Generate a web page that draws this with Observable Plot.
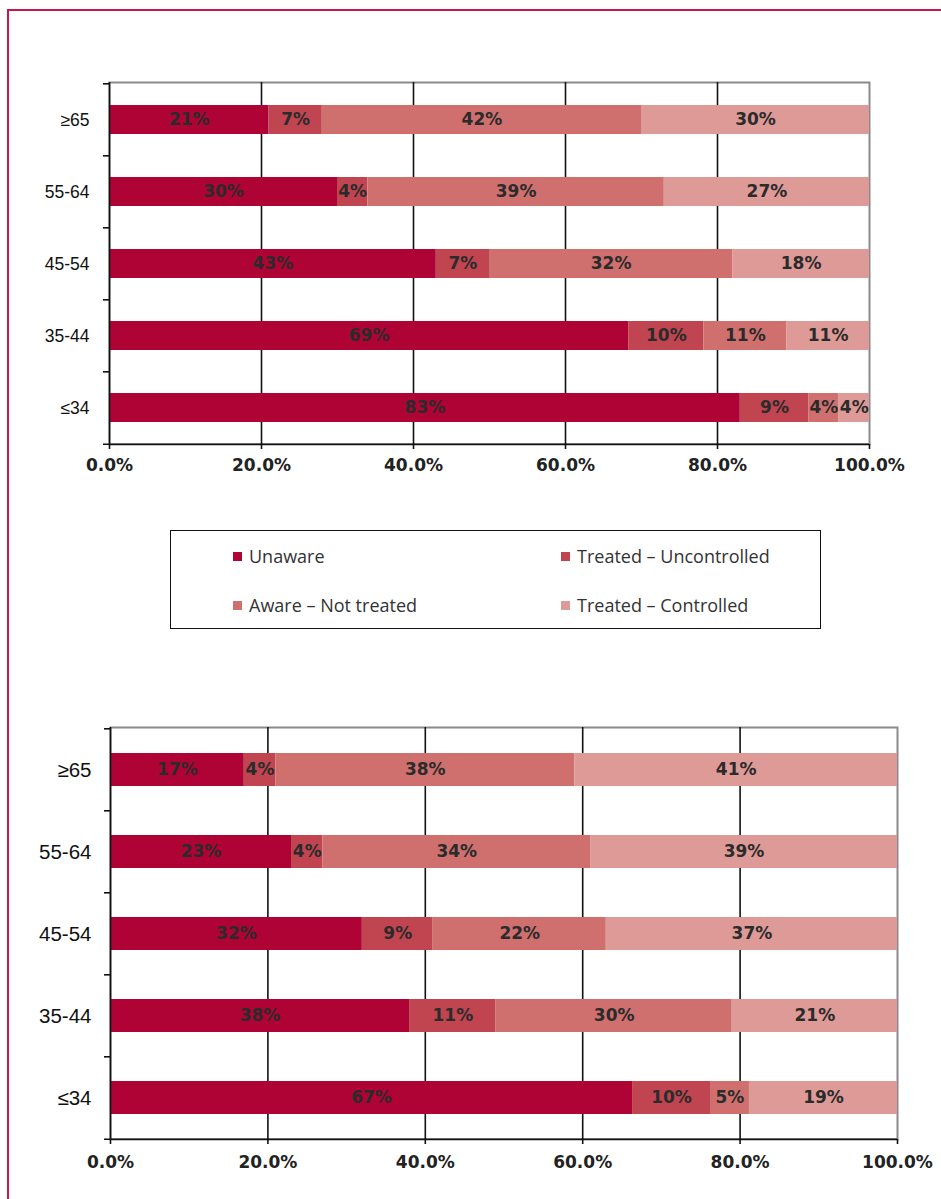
<!DOCTYPE html>
<html><head><meta charset="utf-8">
<script src="https://cdn.jsdelivr.net/npm/d3@7"></script>
<script src="https://cdn.jsdelivr.net/npm/@observablehq/plot@0.6"></script>
<style>
body{margin:0;background:#fff;width:941px;height:1199px;overflow:hidden;position:relative;}
#frame{position:absolute;left:7px;top:9px;width:1000px;height:1300px;border:2px solid #c8174a;box-sizing:border-box;}
#c1{position:absolute;left:0;top:0;}
#c2{position:absolute;left:0;top:680px;}
#legend{position:absolute;left:170px;top:530px;width:651px;height:99px;border:1.5px solid #111;box-sizing:border-box;font-family:"Open Sans";font-size:18px;color:#333;}
.item{position:absolute;display:flex;align-items:center;height:20px;line-height:20px;white-space:nowrap;}
.sw{width:9px;height:9px;margin-right:7px;}
</style></head>
<body>
<div id="frame"></div>
<div id="c1"></div><div id="legend"></div><div id="c2"></div>
<script>
const ageGroups = ["≥65","55-64","45-54","35-44","≤34"];
const statuses = ["Unaware","Treated – Uncontrolled","Aware – Not treated","Treated – Controlled"];
const colors = ["#b00335","#c04550","#cf706f","#de9a97"];
const xTicks = [0,0.2,0.4,0.6,0.8,1];
const xTickLabels = ["0.0%","20.0%","40.0%","60.0%","80.0%","100.0%"];
const gridTicks = [0.2,0.4,0.6,0.8];

// Top chart (values in ageGroups order)
const topUnaware = [21,30,43,69,83];
const topTreatedUncontrolled = [7,4,7,10,9];
const topAwareNotTreated = [42,39,32,11,4];
const topTreatedControlled = [30,27,18,11,4];

// Bottom chart
const bottomUnaware = [17,23,32,38,67];
const bottomTreatedUncontrolled = [4,4,9,11,10];
const bottomAwareNotTreated = [38,34,22,30,5];
const bottomTreatedControlled = [41,39,37,21,19];

function rows(series) {
  const out = [];
  series.forEach((vals, s) => vals.forEach((v, i) => out.push({age: ageGroups[i], status: statuses[s], value: v})));
  return out;
}

function chart({data, height, mt, mb, ml, mr, labelDx, labelSize, tickPad}) {
  const width = 941;
  const plotW = width - ml - mr;
  const step = (height - mt - mb) / ageGroups.length;
  const tk = 6 / plotW;
  const numFont = "DejaVu Sans";
  return Plot.plot({
    width, height,
    marginTop: mt, marginBottom: mb, marginLeft: ml, marginRight: mr,
    style: {background: "transparent", overflow: "visible"},
    x: {domain: [0, 1], axis: null},
    y: {domain: ageGroups, axis: null, paddingInner: 0.6, paddingOuter: 0.3},
    color: {domain: statuses, range: colors},
    marks: [
      Plot.frame({stroke: "#8a8a8e", strokeWidth: 2}),
      Plot.ruleX(gridTicks, {stroke: "#111", strokeWidth: 1.6}),
      Plot.barX(data, Plot.stackX({x: "value", y: "age", fill: "status", offset: "normalize", order: statuses})),
      Plot.text(data, Plot.stackX({x: "value", y: "age", z: "status", offset: "normalize", order: statuses,
        text: d => d.value + "%", fill: "#2b2b2b", fontSize: 17, fontWeight: "bold", fontFamily: numFont})),
      Plot.ruleX([0], {stroke: "#111", strokeWidth: 1.6}),
      Plot.ruleY(ageGroups, {y: d => d, x1: -tk, x2: 0, dy: -step / 2, stroke: "#111", strokeWidth: 1.6}),
      Plot.ruleY([ageGroups[ageGroups.length - 1]], {y: d => d, x1: -tk, x2: 1, dy: step / 2, stroke: "#111", strokeWidth: 1.6}),
      Plot.axisX(xTicks, {label: null, tickSize: 5, tickPadding: tickPad, stroke: "#111", strokeWidth: 1.6,
        tickFormat: d => xTickLabels[xTicks.indexOf(d)], fontSize: 17, fontWeight: "bold", fontFamily: numFont, fill: "#222"}),
      Plot.text(ageGroups, {y: d => d, frameAnchor: "left", dx: labelDx, textAnchor: "end",
        fontSize: labelSize, fontFamily: "Liberation Sans", fill: "#111"})
    ]
  });
}

document.getElementById("c1").append(chart({
  data: rows([topUnaware, topTreatedUncontrolled, topAwareNotTreated, topTreatedControlled]),
  height: 490, mt: 82, mb: 46, ml: 109, mr: 72, labelDx: -20, labelSize: 17.5, tickPad: 9
}));
document.getElementById("c2").append(chart({
  data: rows([bottomUnaware, bottomTreatedUncontrolled, bottomAwareNotTreated, bottomTreatedControlled]),
  height: 519, mt: 47, mb: 60, ml: 110, mr: 44, labelDx: -19, labelSize: 20.5, tickPad: 11
}));

const legend = document.getElementById("legend");
const pos = [[62, 15], [390, 15], [62, 64], [390, 64]];
statuses.forEach((name, k) => {
  const it = document.createElement("div");
  it.className = "item";
  it.style.left = pos[k][0] + "px";
  it.style.top = pos[k][1] + "px";
  const sw = document.createElement("span");
  sw.className = "sw";
  sw.style.background = colors[k];
  const tx = document.createElement("span");
  tx.textContent = name;
  it.append(sw, tx);
  legend.append(it);
});
</script>
</body></html>
